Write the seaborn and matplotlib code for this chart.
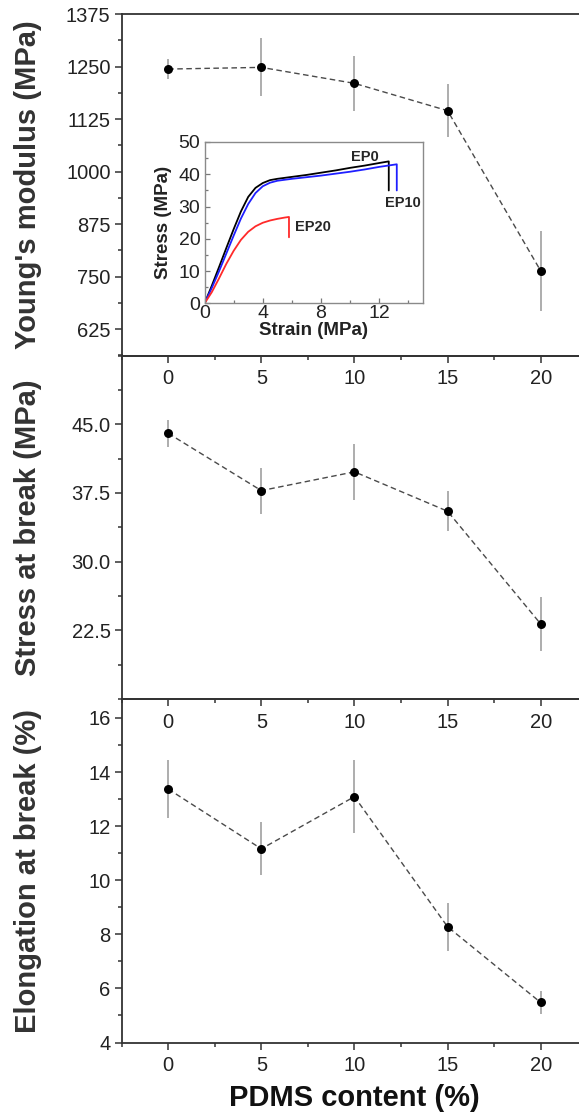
import numpy as np
import pandas as pd
import matplotlib
matplotlib.use("Agg")
import matplotlib.pyplot as plt
from matplotlib.ticker import MultipleLocator
import seaborn as sns

# PDMS loading levels (%)
pdms = [0, 5, 10, 15, 20]

# Young's modulus (MPa) and standard deviations
modulus = [1244, 1248, 1210, 1145, 764]
modulus_err = [23, 69, 66, 63, 95]

# Stress at break (MPa)
stress_break = [44.0, 37.75, 39.8, 35.5, 23.2]
stress_break_err = [1.45, 2.5, 3.05, 2.2, 2.95]

# Elongation at break (%)
elong_break = [13.37, 11.16, 13.09, 8.28, 5.48]
elong_break_err = [1.07, 0.98, 1.36, 0.88, 0.44]

# Representative stress-strain curves for the inset
ep0_strain = [0, 0.5, 1.0, 1.5, 2.0, 2.5, 3.0, 3.5, 4.0, 4.5, 5.0, 6.0, 7.0,
              8.0, 9.0, 10.0, 11.0, 12.0, 12.65, 12.65]
ep0_stress = [0, 5.5, 11.3, 17.2, 23.0, 28.5, 33.0, 35.8, 37.3, 38.2, 38.6,
              39.2, 39.8, 40.5, 41.2, 42.0, 42.7, 43.5, 44.0, 35.0]
ep10_strain = [0, 0.5, 1.0, 1.5, 2.0, 2.5, 3.0, 3.5, 4.0, 4.5, 5.0, 6.0, 7.0,
               8.0, 9.0, 10.0, 11.0, 12.0, 13.2, 13.2]
ep10_stress = [0, 4.8, 10.0, 15.5, 21.0, 26.3, 30.8, 34.2, 36.3, 37.4, 38.0,
               38.6, 39.1, 39.6, 40.2, 40.8, 41.5, 42.3, 43.1, 35.0]
ep20_strain = [0, 0.5, 1.0, 1.5, 2.0, 2.5, 3.0, 3.5, 4.0, 4.5, 5.0, 5.5, 5.8, 5.8]
ep20_stress = [0, 3.5, 7.8, 12.3, 16.3, 19.7, 22.2, 23.9, 25.0, 25.7, 26.2,
               26.6, 26.8, 20.5]

sns.set_style("ticks")
plt.rcParams["font.family"] = ["Liberation Sans", "DejaVu Sans"]
plt.rcParams["axes.edgecolor"] = "#333333"
plt.rcParams["xtick.color"] = "#333333"
plt.rcParams["ytick.color"] = "#333333"
plt.rcParams["xtick.labelcolor"] = "#222222"
plt.rcParams["ytick.labelcolor"] = "#222222"

W, H = 579, 1116
fig = plt.figure(figsize=(W / 100, H / 100), dpi=100)
fig.patch.set_facecolor("white")


def px_axes(left, top, right, bottom):
    return fig.add_axes([left / W, 1 - bottom / H, (right - left) / W, (bottom - top) / H])


left_px, right_px = 121.7, 587.2
ax_top = px_axes(left_px, 14, right_px, 355.5)
ax_mid = px_axes(left_px, 355.5, right_px, 699)
ax_bot = px_axes(left_px, 699, right_px, 1042.5)

panels = [
    (ax_top, modulus, modulus_err, "Young's modulus (MPa)", (562.5, 1375), 125, 62.5, "{:.0f}"),
    (ax_mid, stress_break, stress_break_err, "Stress at break (MPa)", (15, 52.5), 7.5, 3.75, "{:.1f}"),
    (ax_bot, elong_break, elong_break_err, "Elongation at break (%)", (4, 16.7), 2, 1, "{:.0f}"),
]

for ax, vals, errs, label, ylim, major, minor, fmt in panels:
    ax.patch.set_alpha(0)
    df = pd.DataFrame({"pdms": pdms, "val": vals})
    sns.lineplot(data=df, x="pdms", y="val", ax=ax, color="#4a4a4a",
                 linestyle=(0, (4, 2.5)), lw=1.0, zorder=2)
    ax.errorbar(pdms, vals, yerr=errs, fmt="none", ecolor="#a0a0a0",
                elinewidth=1.2, capsize=0, zorder=1)
    sns.scatterplot(data=df, x="pdms", y="val", ax=ax, color="black",
                    s=42, edgecolor="black", linewidth=0, zorder=3)
    ax.set_xlim(-2.5, 22.5)
    ax.set_ylim(*ylim)
    ax.xaxis.set_major_locator(MultipleLocator(5))
    ax.xaxis.set_minor_locator(MultipleLocator(2.5))
    ax.yaxis.set_major_locator(MultipleLocator(major))
    ax.yaxis.set_minor_locator(MultipleLocator(minor))
    ax.yaxis.set_major_formatter(plt.FuncFormatter(lambda v, p, f=fmt: f.format(v)))
    ax.tick_params(axis="both", which="major", direction="out", length=5, width=1.1,
                   labelsize=14.5)
    ax.tick_params(axis="x", which="major", pad=5)
    ax.tick_params(axis="y", which="major", pad=3)
    ax.tick_params(axis="both", which="minor", direction="out", length=3, width=1.1)
    for sp in ax.spines.values():
        sp.set_linewidth(1.3)
        sp.set_color("#333333")
    ax.set_xlabel("")
    ax.set_ylabel(label, fontsize=21, fontweight="bold", color="#333333", va="center")
    ax.yaxis.set_label_coords((28 - left_px) / (right_px - left_px), 0.5)

# Labelled ticks only inside the data range of each panel
ax_top.set_yticks([625, 750, 875, 1000, 1125, 1250, 1375])
ax_mid.set_yticks([22.5, 30.0, 37.5, 45.0])

ax_bot.set_xlabel("PDMS content (%)", fontsize=21, fontweight="bold", color="#111111")
ax_bot.xaxis.set_label_coords(0.5, (1042.5 - 1098) / (1042.5 - 699))
ax_bot.xaxis.label.set_va("center")

# Inset: stress-strain curves
ax_in = px_axes(204.5, 142, 423, 303.5)
ax_in.set_facecolor("white")
curves = [
    (ep0_strain, ep0_stress, "black"),
    (ep10_strain, ep10_stress, "#1f1fff"),
    (ep20_strain, ep20_stress, "#ff2a2a"),
]
for xs, ys, c in curves:
    cdf = pd.DataFrame({"strain": xs, "stress": ys})
    sns.lineplot(data=cdf, x="strain", y="stress", ax=ax_in, color=c, lw=1.3,
                 sort=False, estimator=None)
ax_in.set_xlim(0, 15)
ax_in.set_ylim(0, 50)
ax_in.xaxis.set_major_locator(MultipleLocator(4))
ax_in.xaxis.set_minor_locator(MultipleLocator(2))
ax_in.yaxis.set_major_locator(MultipleLocator(10))
ax_in.yaxis.set_minor_locator(MultipleLocator(5))
ax_in.tick_params(axis="both", which="major", direction="in", length=3.5, width=0.9,
                  labelsize=14, color="#777777")
ax_in.tick_params(axis="both", which="minor", direction="in", length=2, width=0.9,
                  color="#777777")
ax_in.tick_params(axis="x", which="major", pad=1)
ax_in.tick_params(axis="y", which="major", pad=3)
for sp in ax_in.spines.values():
    sp.set_linewidth(1.0)
    sp.set_color("#8a8a8a")
ax_in.set_xlabel("Strain (MPa)", fontsize=13.5, fontweight="bold", color="#222222", va="center")
ax_in.set_ylabel("Stress (MPa)", fontsize=13.5, fontweight="bold", color="#222222", va="center")
ax_in.xaxis.set_label_coords(0.5, (303.5 - 330.7) / 161.5)
ax_in.yaxis.set_label_coords((163 - 204.5) / 218.5, 0.5)

ax_in.text(10.08, 45.5, "EP0", fontsize=10.5, fontweight="bold", va="center", ha="left")
ax_in.text(12.4, 31.1, "EP10", fontsize=10.5, fontweight="bold", va="center", ha="left")
ax_in.text(6.24, 23.7, "EP20", fontsize=10.5, fontweight="bold", va="center", ha="left")

fig.savefig("out.png", dpi=100, facecolor="white")
